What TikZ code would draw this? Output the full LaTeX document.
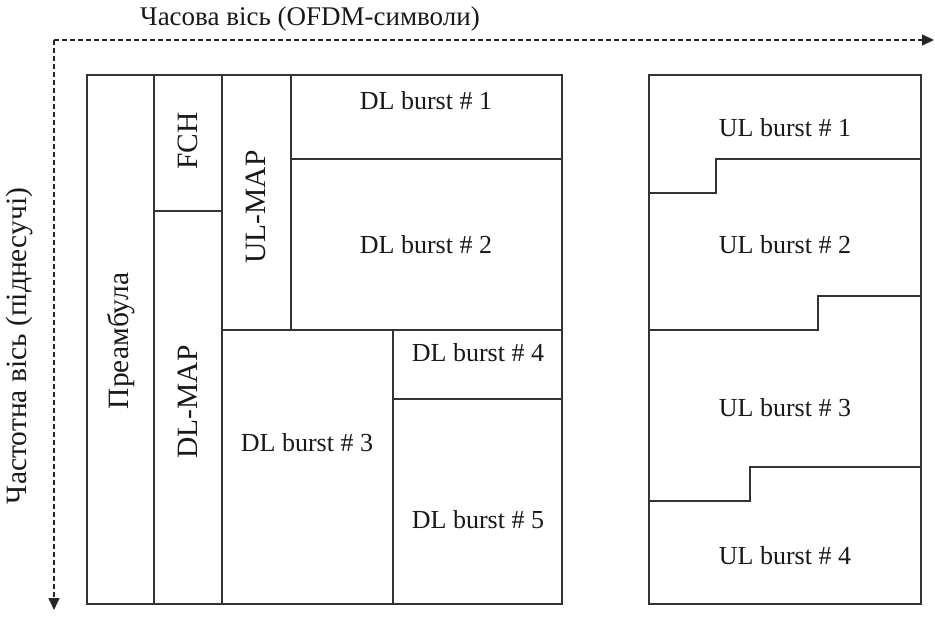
\documentclass[tikz,border=0pt]{standalone}
\usepackage{fontspec}
\setmainfont{Liberation Serif}
\usetikzlibrary{arrows.meta}
\begin{document}
\begin{tikzpicture}[x=1pt,y=-1pt,
  frame/.style={draw=black!80, line width=1.6pt},
  lbl/.style={font=\fontsize{26}{30}\selectfont, inner sep=0pt, text=black!90},
  vlbl/.style={font=\fontsize{29.5}{34}\selectfont, inner sep=0pt, text=black!90, rotate=90},
  axis/.style={draw=black!85, line width=1.6pt, dash pattern=on 5pt off 3pt, -{Triangle[length=12pt,width=11pt]}}]
\useasboundingbox (0,0) rectangle (935,620);
% axes
\coordinate (O) at (54,40);
\coordinate (TX) at (934,40);
\coordinate (TY) at (54,610);
\draw[axis] (O) -- (TX);
\draw[axis] (O) -- (TY);
\node[font=\fontsize{27}{31}\selectfont, inner sep=0pt, text=black!90] (tlabel) at (310,19) {Часова вісь (OFDM-символи)};
\node[vlbl] (flabel) at (19,346) {Частотна вісь (піднесучі)};
% downlink frame
\draw[frame] (87,75) rectangle (562,604);
\draw[frame] (154,75) -- (154,604);
\draw[frame] (222,75) -- (222,604);
\draw[frame] (154,211) -- (222,211);
\draw[frame] (291,75) -- (291,330);
\draw[frame] (291,159) -- (562,159);
\draw[frame] (222,330) -- (562,330);
\draw[frame] (393,330) -- (393,604);
\draw[frame] (393,399) -- (562,399);
% uplink frame
\draw[frame] (649,75) rectangle (921,604);
\draw[frame] (649,193) -| (716,159) -- (921,159);
\draw[frame] (649,330) -| (818,296) -- (921,296);
\draw[frame] (649,501) -| (750,467) -- (921,467);
% labels
\node[vlbl] (pre) at (121,341) {Преамбула};
\node[vlbl] (fch) at (188,141) {FCH};
\node[vlbl] (ulmap) at (256,207) {UL-MAP};
\node[vlbl] (dlmap) at (188,402) {DL-MAP};
\node[lbl] (dl1) at (426,101) {DL burst \# 1};
\node[lbl] (dl2) at (426,245) {DL burst \# 2};
\node[lbl] (dl3) at (307,443) {DL burst \# 3};
\node[lbl] (dl4) at (478,353) {DL burst \# 4};
\node[lbl] (dl5) at (478,520) {DL burst \# 5};
\node[lbl] (ul1) at (785,128) {UL burst \# 1};
\node[lbl] (ul2) at (785,245) {UL burst \# 2};
\node[lbl] (ul3) at (785,408) {UL burst \# 3};
\node[lbl] (ul4) at (785,556) {UL burst \# 4};
\end{tikzpicture}
\end{document}
